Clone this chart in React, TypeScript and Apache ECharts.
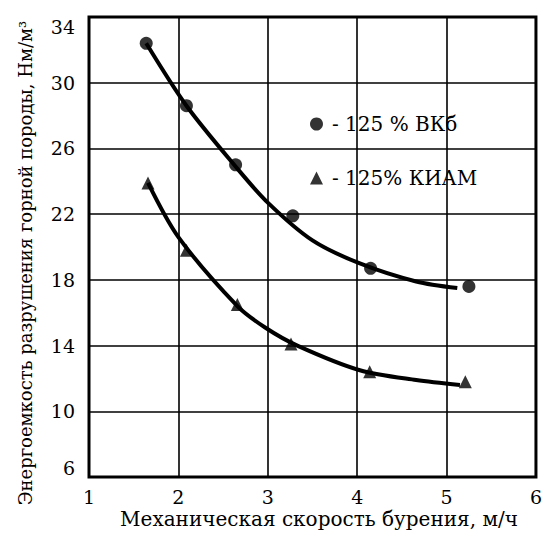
import React, { useEffect, useRef } from "react";
import * as echarts from "echarts";

// Measured points
const vk6X = [1.64, 2.09, 2.64, 3.28, 4.15, 5.25];
const vk6Y = [32.4, 28.6, 25.0, 21.9, 18.7, 17.6];
const kiamX = [1.66, 2.09, 2.66, 3.26, 4.14, 5.21];
const kiamY = [23.9, 19.8, 16.5, 14.1, 12.4, 11.8];

// Fitted curves
const vk6CurveX = [1.64, 2.09, 2.64, 3.0, 3.5, 4.03, 4.66, 5.12];
const vk6CurveY = [32.4, 28.6, 24.9, 22.7, 20.4, 19.0, 17.9, 17.5];
const kiamCurveX = [1.66, 2.0, 2.66, 2.97, 3.33, 4.03, 4.66, 5.15];
const kiamCurveY = [23.9, 20.6, 16.4, 15.1, 14.0, 12.5, 11.9, 11.6];

const xAxisMin = 1;
const xAxisMax = 6;
const xAxisStep = 1;
const yAxisMin = 6;
const yAxisMax = 34;
const yAxisStep = 4;

const seriesNames = ["- 125 % ВКб", "- 125% КИАМ"];
const xTitle = "Механическая скорость бурения, м/ч";
const yTitle = "Энергоемкость разрушения горной породы, Нм/м³";

const FONT = "DejaVu Serif";

const zip = (xs: number[], ys: number[]) => xs.map((x, i) => [x, ys[i]]);

export default function App() {
  const ref = useRef<HTMLDivElement>(null);
  useEffect(() => {
    if (!ref.current) return;
    const chart = echarts.init(ref.current, null, { renderer: "svg" });
    chart.setOption({
      animation: false,
      backgroundColor: "#fff",
      grid: {
        left: 89,
        right: 4,
        top: 17,
        bottom: 56,
        show: true,
        borderColor: "#000",
        borderWidth: 3,
        backgroundColor: "transparent",
      },
      xAxis: {
        type: "value",
        min: xAxisMin,
        max: xAxisMax,
        interval: xAxisStep,
        axisLine: { show: false },
        axisTick: { show: false },
        splitLine: { show: true, lineStyle: { color: "#000", width: 1.6 } },
        axisLabel: {
          color: "#000",
          fontFamily: FONT,
          fontSize: 19,
          margin: 10,
        },
      },
      yAxis: {
        type: "value",
        min: yAxisMin,
        max: yAxisMax,
        interval: yAxisStep,
        axisLine: { show: false },
        axisTick: { show: false },
        splitLine: { show: true, lineStyle: { color: "#000", width: 1.6 } },
        axisLabel: {
          color: "#000",
          fontFamily: FONT,
          fontSize: 19,
          margin: 14,
          verticalAlignMaxLabel: "top",
          verticalAlignMinLabel: "bottom",
        },
      },
      legend: {
        orient: "vertical",
        left: 305,
        top: 109,
        itemGap: 34,
        itemWidth: 13,
        itemHeight: 13,
        textStyle: {
          color: "#000",
          fontFamily: FONT,
          fontSize: 20,
          padding: [0, 0, 0, 4],
        },
        data: [
          { name: seriesNames[0], icon: "circle" },
          { name: seriesNames[1], icon: "triangle" },
        ],
      },
      graphic: [
        {
          type: "text",
          x: 25,
          y: 263,
          rotation: Math.PI / 2,
          style: {
            text: yTitle,
            fill: "#000",
            font: `18px '${FONT}'`,
            align: "center",
            verticalAlign: "middle",
          },
        },
        {
          type: "text",
          x: 319,
          y: 519,
          style: {
            text: xTitle,
            fill: "#000",
            font: `20px '${FONT}'`,
            align: "center",
            verticalAlign: "middle",
          },
        },
      ],
      series: [
        {
          type: "line",
          data: zip(vk6CurveX, vk6CurveY),
          smooth: 0.3,
          showSymbol: false,
          lineStyle: { color: "#000", width: 4 },
          silent: true,
        },
        {
          type: "line",
          data: zip(kiamCurveX, kiamCurveY),
          smooth: 0.3,
          showSymbol: false,
          lineStyle: { color: "#000", width: 4 },
          silent: true,
        },
        {
          name: seriesNames[0],
          type: "scatter",
          symbol: "circle",
          symbolSize: 13,
          itemStyle: { color: "#000" },
          data: zip(vk6X, vk6Y),
        },
        {
          name: seriesNames[1],
          type: "scatter",
          symbol: "triangle",
          symbolSize: 13,
          itemStyle: { color: "#000" },
          data: zip(kiamX, kiamY),
        },
      ],
    });
    return () => chart.dispose();
  }, []);
  return (
    <div
      ref={ref}
      style={{ width: 545, height: 533, position: "absolute", left: 0, top: 0 }}
    />
  );
}
